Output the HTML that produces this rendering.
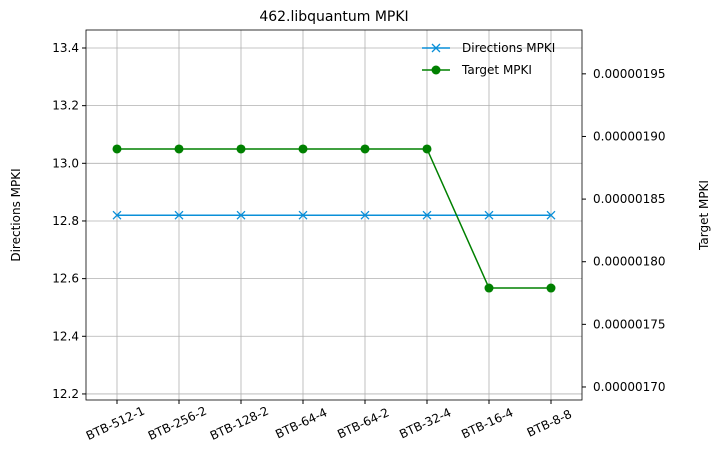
<!DOCTYPE html>
<html><head><meta charset="utf-8"><style>
body{margin:0;background:#fff;}
svg{font-family:"DejaVu Sans","Liberation Sans",sans-serif;}
</style></head><body>
<svg width="722" height="463" xmlns="http://www.w3.org/2000/svg">
<g id="g"></g>
</svg>
<script>
const categories=["BTB-512-1","BTB-256-2","BTB-128-2","BTB-64-4","BTB-64-2","BTB-32-4","BTB-16-4","BTB-8-8"];
const directionsMPKI=[12.82,12.82,12.82,12.82,12.82,12.82,12.82,12.82];
const targetMPKI=[1.89e-6,1.89e-6,1.89e-6,1.89e-6,1.89e-6,1.89e-6,1.779e-6,1.779e-6];
const leftTicks=[12.2,12.4,12.6,12.8,13.0,13.2,13.4];
const rightTicks=[1.70e-6,1.75e-6,1.80e-6,1.85e-6,1.90e-6,1.95e-6];
const rightLabels=["0.00000170","0.00000175","0.00000180","0.00000185","0.00000190","0.00000195"];
const L=86,R=582,T=30,B=400;
const yl=v=>T+(13.4624-v)/(13.4624-12.179)*(B-T);
const yr=v=>T+(1.985e-6-v)/(1.985e-6-1.6896e-6)*(B-T);
const x=i=>117+i*62;
const g=document.getElementById('g');
const NS="http://www.w3.org/2000/svg";
function el(t,a,txt){const e=document.createElementNS(NS,t);for(const k in a)e.setAttribute(k,a[k]);if(txt!==undefined)e.textContent=txt;g.appendChild(e);return e;}
categories.forEach((c,i)=>{
 const e=el('line',{x1:x(i),x2:x(i),y1:T,y2:B,stroke:'#b0b0b0','stroke-width':0.8});
 
 
 el('line',{x1:x(i),x2:x(i),y1:B,y2:B+4,stroke:'#000'});
 const t=el('text',{x:0,y:0,'font-size':12,'text-anchor':'middle',transform:`translate(${x(i)},${B+27}) rotate(-25)`},c);
 
 
});
leftTicks.forEach(v=>{
 const e=el('line',{x1:L,x2:R,y1:yl(v),y2:yl(v),stroke:'#b0b0b0','stroke-width':0.8});
 
 
 el('line',{x1:L-4,x2:L,y1:yl(v),y2:yl(v),stroke:'#000'});
 const t=el('text',{x:L-7,y:yl(v)+4,'font-size':12,'text-anchor':'end'},v.toFixed(1));
 
 
});
rightTicks.forEach((v,i)=>{
 el('line',{x1:R,x2:R+4,y1:yr(v),y2:yr(v),stroke:'#000'});
 const t=el('text',{x:R+11,y:yr(v)+4,'font-size':12},rightLabels[i]);
 
 
});
el('rect',{x:L,y:T,width:R-L,height:B-T,fill:'none',stroke:'#000','stroke-width':0.8});
const dp=el('polyline',{points:directionsMPKI.map((v,i)=>x(i)+','+yl(v)).join(' '),fill:'none',stroke:'#0a8fd8','stroke-width':1.5});


directionsMPKI.forEach((v,i)=>{
 const m=el('path',{d:`M${x(i)-4},${yl(v)-4}L${x(i)+4},${yl(v)+4}M${x(i)-4},${yl(v)+4}L${x(i)+4},${yl(v)-4}`,stroke:'#0a8fd8','stroke-width':1.3});
 
 
});
const tp=el('polyline',{points:targetMPKI.map((v,i)=>x(i)+','+yr(v)).join(' '),fill:'none',stroke:'#008000','stroke-width':1.5});


targetMPKI.forEach((v,i)=>{
 const m=el('circle',{cx:x(i),cy:yr(v),r:4.5,fill:'#008000'});
 
 
});
let t=el('text',{x:334,y:21,'font-size':14,'text-anchor':'middle'},'462.libquantum MPKI');

t=el('text',{x:0,y:0,'font-size':12,'text-anchor':'middle',transform:'translate(20,215) rotate(-90)'},'Directions MPKI');

t=el('text',{x:0,y:0,'font-size':12,'text-anchor':'middle',transform:'translate(708,215) rotate(-90)'},'Target MPKI');

el('line',{x1:422,x2:450,y1:48,y2:48,stroke:'#0a8fd8','stroke-width':1.5});
el('path',{d:'M432,44L440,52M432,52L440,44',stroke:'#0a8fd8','stroke-width':1.3});
t=el('text',{x:462,y:52,'font-size':12},'Directions MPKI');

el('line',{x1:422,x2:450,y1:70,y2:70,stroke:'#008000','stroke-width':1.5});
el('circle',{cx:436,cy:70,r:4.5,fill:'#008000'});
t=el('text',{x:462,y:74,'font-size':12},'Target MPKI');

</script>
</body></html>
